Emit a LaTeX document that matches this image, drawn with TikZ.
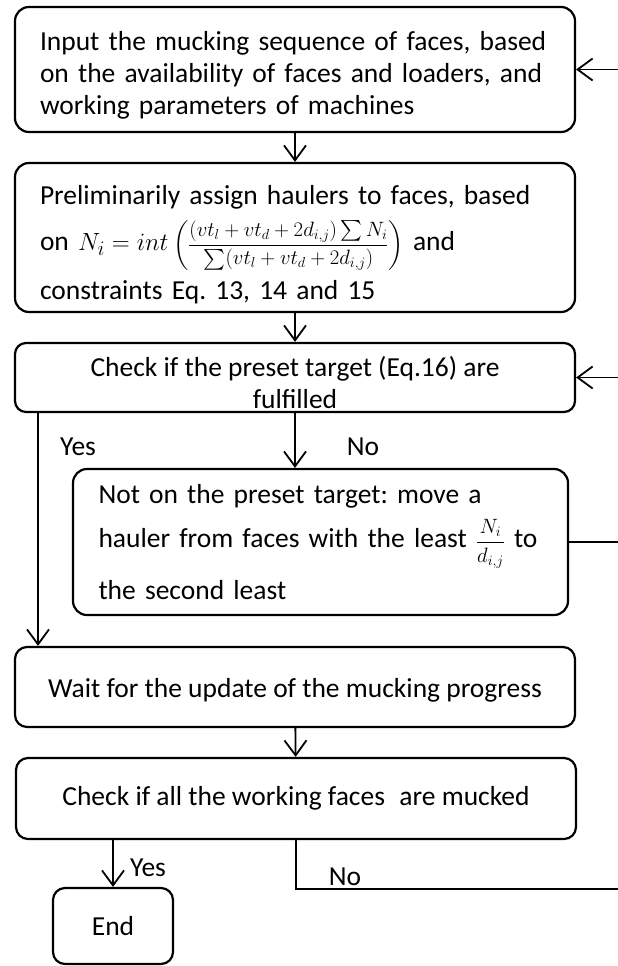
\documentclass[tikz,border=0pt]{standalone}
\usepackage{fontspec}
\setmainfont{Carlito}
\usepackage{amsmath}
\usetikzlibrary{arrows.meta}
\newcommand{\dnstrut}[1]{\rule{0pt}{#1}}
\begin{document}
\frenchspacing
\begin{tikzpicture}[x=1pt,y=-1pt,
  box/.style={draw, line width=2.2pt, rounded corners=14pt, inner sep=0pt,
    font=\fontsize{27.5}{32}\selectfont\frenchspacing},
  ln/.style={line width=1.8pt},
  arr/.style={line width=1.8pt, -{Straight Barb[length=15pt,width=22pt,line width=1.8pt]}},
  lbl/.style={font=\fontsize{27.5}{32}\selectfont, inner sep=0pt}]
\useasboundingbox (0,0) rectangle (618,966);
\coordinate (re) at (618,0);
\coordinate (yx) at (38,0);
\coordinate (nl) at (618,889);

\node[box, minimum width=560pt, minimum height=125pt, text width=510pt, align=left] (b1) at (295,69.5)
  {\mbox{\dnstrut{30pt}Input the mucking sequence of faces, based}\\
   \mbox{on the availability of faces and loaders, and}\\
   \mbox{working parameters of machines}};

\node[box, minimum width=560pt, minimum height=149pt, text width=510pt, align=left] (b2) at (295,237.5)
  {\mbox{\dnstrut{34pt}Preliminarily assign haulers to faces, based}\\[10pt]
   \mbox{on $N_i = int$\,{\fontsize{22}{26}\selectfont$\left(\dfrac{(vt_l+vt_d+2d_{i,j})\textstyle\sum N_i}{\textstyle\sum(vt_l+vt_d+2d_{i,j})}\right)$} and}\\[9pt]
   \mbox{constraints Eq. 13, 14 and 15}};

\node[box, rounded corners=11pt, minimum width=560pt, minimum height=69pt, align=center] (b3) at (295,377.5)
  {\dnstrut{30pt}Check if the preset target (Eq.16) are\\fulfilled};

\node[box, minimum width=495pt, minimum height=146pt, text width=444pt, align=left] (nob) at (320.5,542)
  {\mbox{Not on the preset target: move a}\\[10pt]
   \mbox{hauler from faces with the least {\fontsize{22}{26}\selectfont$\dfrac{N_i}{d_{i,j}}$} to}\\[11pt]
   \mbox{the second least}};

\node[box, rounded corners=12pt, minimum width=560pt, minimum height=80pt, align=center] (b4) at (295,687)
  {\dnstrut{26pt}Wait for the update of the mucking progress};

\node[box, rounded corners=12pt, minimum width=560pt, minimum height=81pt, align=center] (b5) at (296,798.5)
  {Check if all the working faces\hspace{0.3em} are mucked};

\node[box, rounded corners=12pt, minimum width=120pt, minimum height=76pt, align=center] (e) at (113,926)
  {End};

\draw[arr] (b1) -- (b2);
\draw[arr] (b2) -- (b3);
\draw[arr] (b3.south) -- (b3.south |- nob.north);
\draw[arr] (b3.south -| yx) -- (b4.north -| yx);
\draw[ln] (nob.east) -- (nob.east -| re);
\draw[arr] (b1.east -| re) -- (b1.east);
\draw[arr] (b3.east -| re) -- (b3.east);
\draw[arr] (b4) -- (b5);
\draw[arr] (b5.south -| e.north) -- (e.north);
\draw[ln] (b5.south) |- (nl);

\node[lbl] (yes1) at (78,447) {Yes};
\node[lbl] (no1) at (363,447) {No};
\node[lbl] (yes2) at (148,868) {Yes};
\node[lbl] (no2) at (345,877) {No};
\end{tikzpicture}
\end{document}
